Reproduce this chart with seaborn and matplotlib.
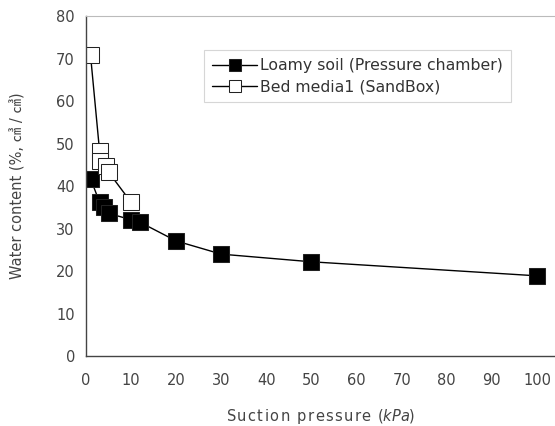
import numpy as np
import pandas as pd
import matplotlib
matplotlib.use('Agg')
import matplotlib.pyplot as plt
import seaborn as sns

# Datos
loamy_x = [1, 3, 4, 5, 10, 12, 20, 30, 50, 100]
loamy_y = [41.8, 36.2, 35.0, 33.6, 32.1, 31.5, 27.1, 24.0, 22.2, 18.9]

bed_x = [1, 3, 3, 4.5, 5, 10]
bed_y = [70.8, 48.3, 46.0, 44.8, 43.3, 36.2]

x_ticks = [0, 10, 20, 30, 40, 50, 60, 70, 80, 90, 100]
y_ticks = [0, 10, 20, 30, 40, 50, 60, 70, 80]

sns.set_style("white")
plt.rcParams['font.family'] = ['DejaVu Sans', 'Noto Sans CJK KR']

df_loamy = pd.DataFrame({"x": loamy_x, "y": loamy_y})
df_bed = pd.DataFrame({"x": bed_x, "y": bed_y})

fig = plt.figure(figsize=(5.55, 4.26), dpi=100)
ax = fig.add_axes([0.155, 0.164, 0.845, 0.798])

sns.lineplot(data=df_loamy, x="x", y="y", ax=ax, estimator=None, sort=False,
             color="black", lw=1, marker="s", markersize=11,
             markerfacecolor="black", markeredgecolor="#222222",
             label="Loamy soil (Pressure chamber)")
sns.lineplot(data=df_bed, x="x", y="y", ax=ax, estimator=None, sort=False,
             color="black", lw=1, marker="s", markersize=11,
             markerfacecolor="white", markeredgecolor="#222222",
             label="Bed media1 (SandBox)")

ax.set_xlim(0, 104)
ax.set_ylim(0, 80)
ax.set_xticks(x_ticks)
ax.set_yticks(y_ticks)
ax.tick_params(axis="both", direction="in", length=3, labelsize=10.5,
               colors="#444444")
ax.tick_params(axis="x", pad=12)
ax.tick_params(axis="y", pad=8)

for s in ["left", "bottom"]:
    ax.spines[s].set_color("#444444")
    ax.spines[s].set_linewidth(1)
ax.spines["top"].set_color("#bbbbbb")
ax.spines["top"].set_linewidth(0.8)
ax.spines["right"].set_visible(False)

hair = "\u200a"
xlab = hair.join("Suction pressure ") + "($\\it{kPa}$)"
ax.set_xlabel(xlab, fontsize=10.5, color="#444444", labelpad=14)
ax.set_ylabel("Water content (%, ㎤ / ㎤)", fontsize=10.5, color="#444444",
              labelpad=22, family=['DejaVu Sans', 'Noto Sans CJK KR'])

leg = ax.legend(loc="upper right", bbox_to_anchor=(0.922, 0.923), fontsize=11.3,
                frameon=True, fancybox=False, edgecolor="#cccccc",
                markerscale=0.75, handlelength=2.9, borderpad=0.5,
                labelspacing=0.4, handletextpad=0.15)
leg.get_frame().set_linewidth(0.8)
for t in leg.get_texts():
    t.set_color("#333333")

plt.savefig("out.png", dpi=100)
plt.close()
